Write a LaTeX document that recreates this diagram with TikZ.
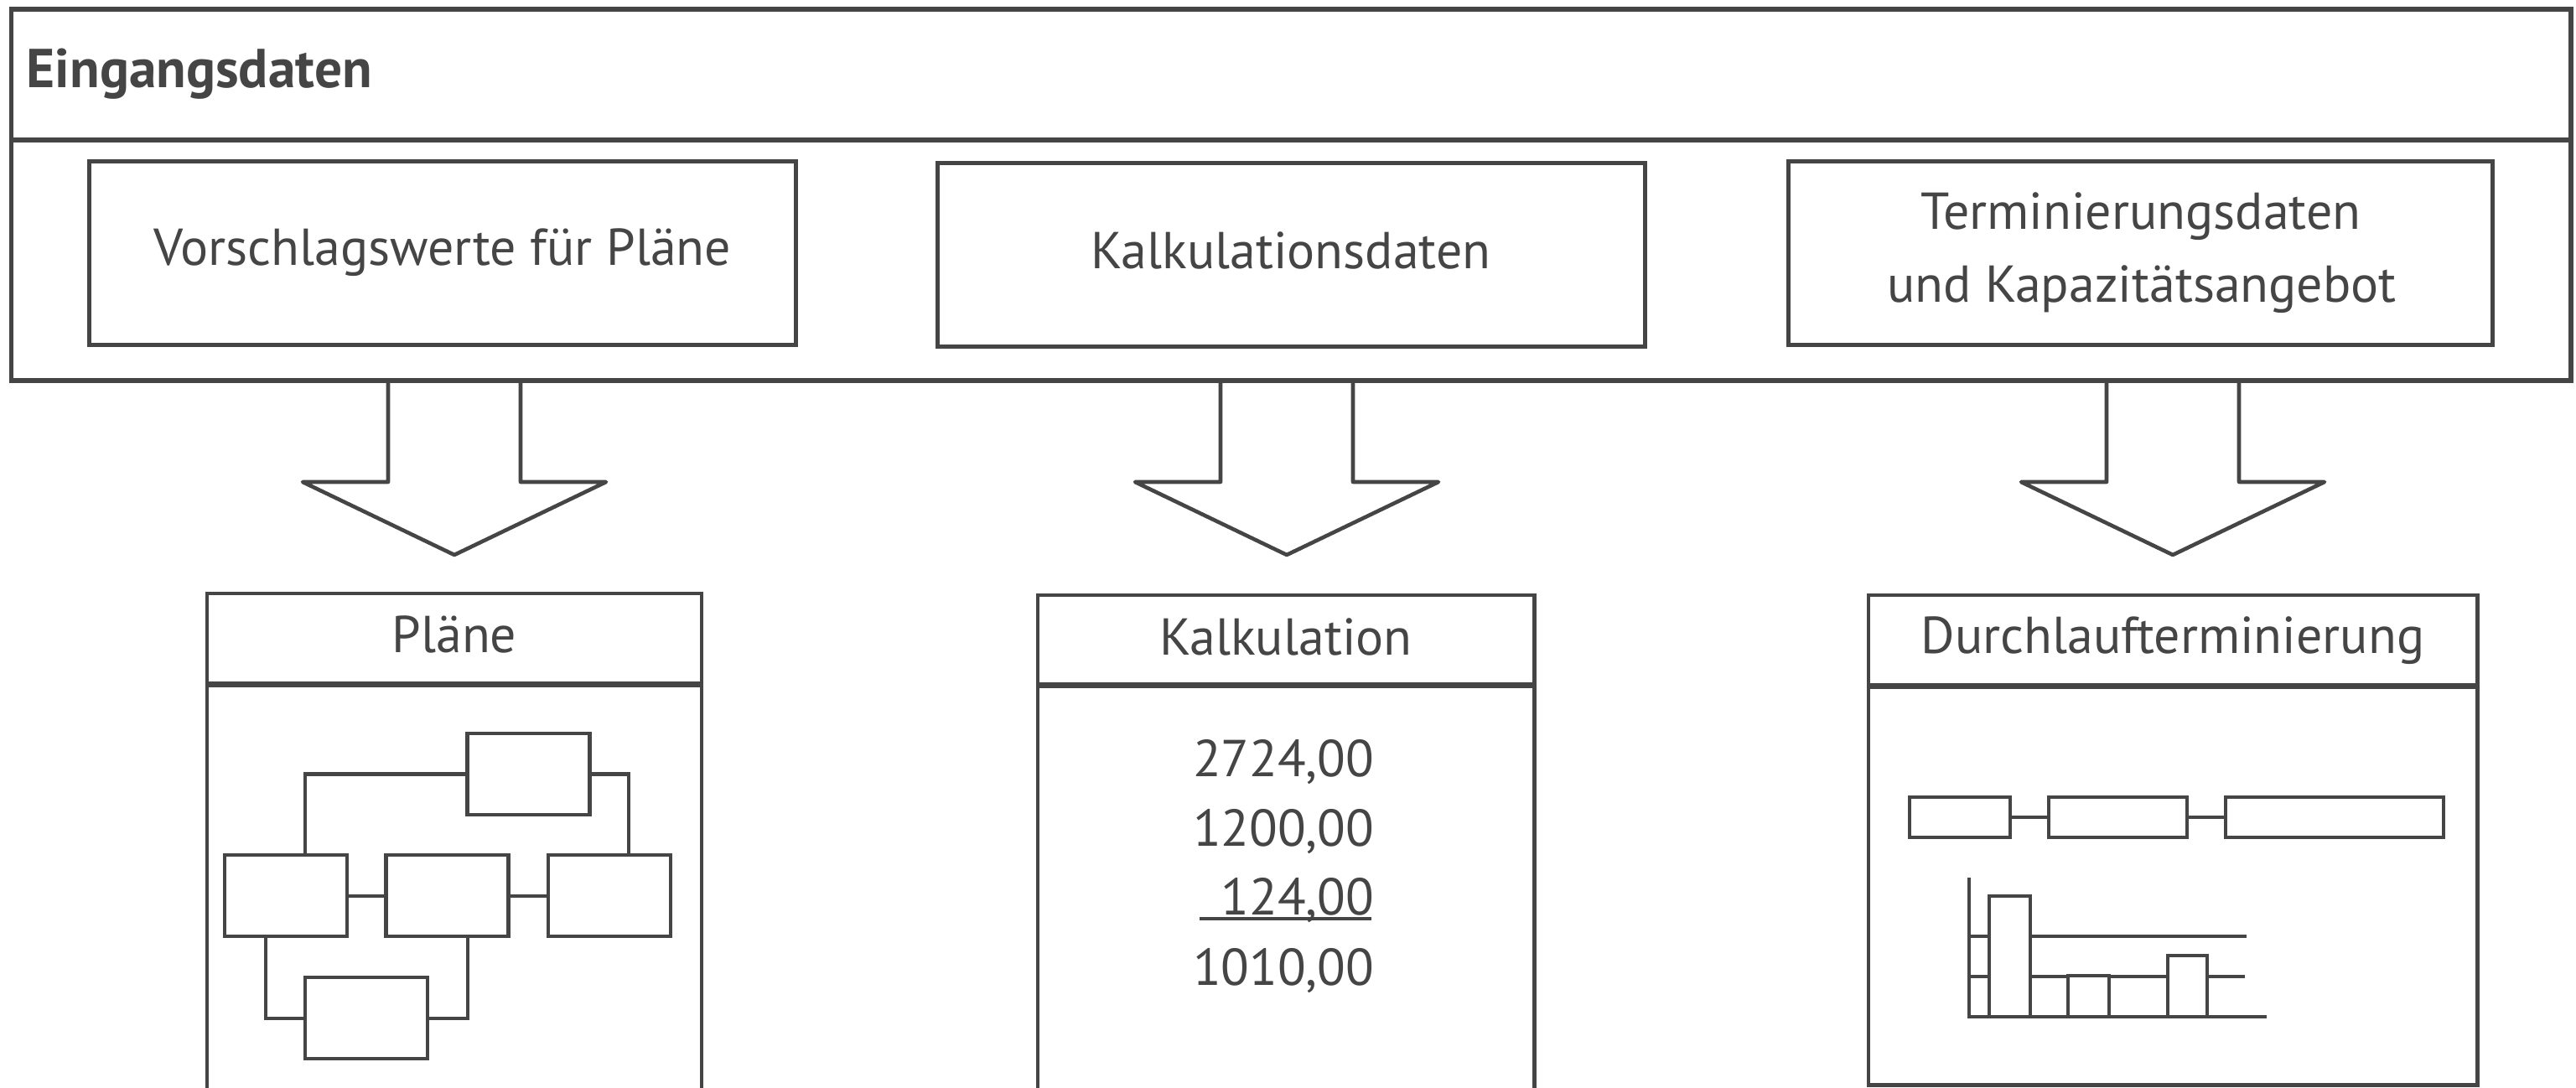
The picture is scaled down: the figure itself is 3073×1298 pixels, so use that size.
\documentclass[tikz,border=0pt]{standalone}
\usepackage{fontspec}
\setmainfont{PT Sans}
\definecolor{ink}{HTML}{454545}
\begin{document}
\begin{tikzpicture}[x=0.01cm,y=-0.01cm,
  lw/.style={line width=0.046cm, draw=ink},
  box/.style={lw, rectangle, inner sep=0pt, fill=white},
  sbox/.style={box, minimum width=1.46cm, minimum height=0.97cm},
  gbox/.style={box, minimum height=0.48cm},
  txt/.style={text=ink, inner sep=0pt, font=\fontsize{17.6}{21}\selectfont},
  conn/.style={lw, line width=0.04cm},
]
\useasboundingbox (0,0) rectangle (3073,1298);
\clip (0,0) rectangle (3073,1298);

% top frame
\node[box, line width=0.052cm, minimum width=30.52cm, minimum height=1.56cm] (head) at (1540,89) {};
\node[box, line width=0.052cm, minimum width=30.52cm, minimum height=2.87cm] (body) at (1540,310.5) {};
\node[txt, anchor=base west, font=\bfseries\fontsize{18.6}{22}\selectfont] (title) at (31,105) {Eingangsdaten};

% input boxes
\node[box, minimum width=8.42cm, minimum height=2.19cm] (v1) at (528,302) {};
\node[box, minimum width=8.43cm, minimum height=2.19cm] (v2) at (1540.5,304) {};
\node[box, minimum width=8.39cm, minimum height=2.19cm] (v3) at (2553.5,302) {};
\node[txt, anchor=base] (v1t) at (528,317) {Vorschlagswerte für Pläne};
\node[txt, anchor=base] (v2t) at (1540,321) {Kalkulationsdaten};
\node[txt, anchor=base] (v3a) at (2554,274) {Terminierungsdaten};
\node[txt, anchor=base] (v3b) at (2555,361) {und Kapazitätsangebot};

% block arrows
\foreach \c in {542,1535,2592} {
  \draw[lw, line join=round] (\c-79,454) -- (\c-79,575) -- (\c-181,575) -- (\c,662)
    -- (\c+181,575) -- (\c+79,575) -- (\c+79,454);
}

% output boxes
\node[box, minimum width=5.90cm, minimum height=6cm, anchor=north] (pB) at (542,815) {};
\node[box, minimum width=5.90cm, minimum height=1.07cm] (pH) at (542,761.5) {};
\node[box, minimum width=5.92cm, minimum height=6cm, anchor=north] (kB) at (1534,816) {};
\node[box, minimum width=5.92cm, minimum height=1.06cm] (kH) at (1534,763) {};
\node[box, minimum width=7.26cm, minimum height=4.75cm, anchor=north] (dB) at (2592,817) {};
\node[box, minimum width=7.26cm, minimum height=1.07cm] (dH) at (2592,763.5) {};
\node[txt, anchor=base] (pHt) at (542,779) {Pläne};
\node[txt, anchor=base] (kHt) at (1534,782) {Kalkulation};
\node[txt, anchor=base] (dHt) at (2592,780) {Durchlaufterminierung};

% Kalkulation numbers
\node[txt, anchor=base east] (n1) at (1640,926) {2724,00};
\node[txt, anchor=base east] (n2) at (1640,1009) {1200,00};
\node[txt, anchor=base east] (n3) at (1640,1091) {124,00};
\node[txt, anchor=base east] (n4) at (1640,1175) {1010,00};
\draw[ink, line width=0.032cm] (1431,1096) -- (1636,1096);

% Plaene network
\node[sbox] (T) at (630.5,923.5) {};
\node[sbox] (L) at (341,1068.5) {};
\node[sbox] (M) at (533.5,1068.5) {};
\node[sbox] (R) at (727,1068.5) {};
\node[sbox] (B) at (437,1214.5) {};
\draw[conn] (T.west) -| ([xshift=0.23cm]L.north);
\draw[conn] (T.east) -| ([xshift=0.23cm]R.north);
\draw[conn] (L.east) -- (M.west);
\draw[conn] (M.east) -- (R.west);
\draw[conn] ([xshift=-0.24cm]L.south) |- (B.west);
\draw[conn] ([xshift=0.245cm]M.south) |- (B.east);

% Durchlaufterminierung
\node[gbox, minimum width=1.20cm] (ga) at (2338,975) {};
\node[gbox, minimum width=1.65cm] (gb) at (2526.5,975) {};
\node[gbox, minimum width=2.60cm] (gc) at (2785,975) {};
\draw[conn] (ga.east) -- (gb.west);
\draw[conn] (gb.east) -- (gc.west);
\draw[lw] (2349,1047) -- (2349,1213) -- (2704,1213);
\draw[lw] (2349,1117) -- (2680,1117);
\draw[lw] (2349,1165) -- (2678,1165);
\draw[lw, fill=white] (2373,1069) rectangle (2422,1213);
\draw[lw, fill=white] (2467,1164) rectangle (2516,1213);
\draw[lw, fill=white] (2586,1140) rectangle (2633,1213);
\end{tikzpicture}
\end{document}
